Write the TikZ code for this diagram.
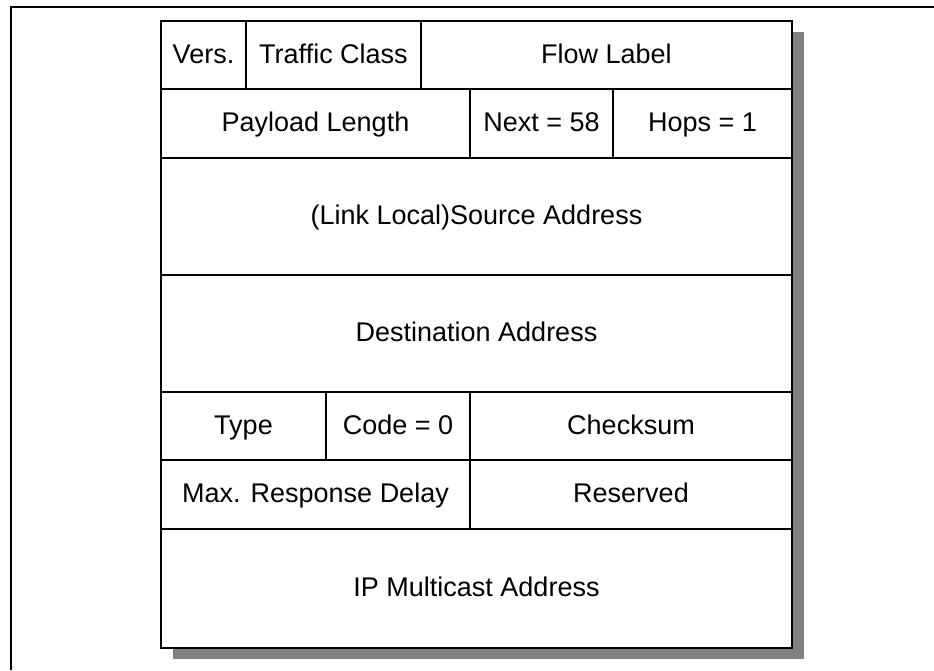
\documentclass[tikz,border=0pt]{standalone}
\usepackage{fontspec}
\setmainfont{Liberation Sans}
\begin{document}
\begin{tikzpicture}[x=1pt,y=-1pt,
  cell/.style={draw=black, line width=2pt, fill=white, inner sep=0pt, outer sep=0pt,
    text height=16pt, text depth=0pt, font=\fontsize{27}{32}\selectfont},
  frameline/.style={draw=black, line width=2pt},
  shadowbox/.style={fill=black!50, draw=none},
  tableborder/.style={draw=black, line width=2.6pt}]
\useasboundingbox (0,0) rectangle (934,670);
% open page frame
\coordinate (ftr) at (934,7);
\coordinate (ftl) at (11,7);
\coordinate (fbl) at (11,670);
\draw[frameline] (ftr) -- (ftl) -- (fbl);
% shadow
\coordinate (sa) at (173,32);
\coordinate (sb) at (804,659);
\fill[shadowbox] (sa) rectangle (sb);
% row 1
\node[cell, minimum width=85pt, minimum height=68pt] (vers) at (203.5,55) {Vers.};
\node[cell, minimum width=175pt, minimum height=68pt] (tc) at (333.5,55) {Traffic Class};
\node[cell, minimum width=371pt, minimum height=68pt] (fl) at (606.5,55) {Flow Label};
% row 2
\node[cell, minimum width=309pt, minimum height=69pt] (pl) at (315.5,123.5) {Payload Length};
\node[cell, minimum width=143pt, minimum height=69pt] (nx) at (541.5,123.5) {Next = 58};
\node[cell, minimum width=179pt, minimum height=69pt] (hp) at (702.5,123.5) {Hops = 1};
% row 3, 4
\node[cell, minimum width=631pt, minimum height=117pt] (src) at (476.5,216.5) {(Link Local)Source Address};
\node[cell, minimum width=631pt, minimum height=117pt] (dst) at (476.5,333.5) {Destination Address};
% row 5
\node[cell, minimum width=165pt, minimum height=68pt] (type) at (243.5,426) {Type};
\node[cell, minimum width=144pt, minimum height=68pt] (code) at (398,426) {Code = 0};
\node[cell, minimum width=322pt, minimum height=68pt] (chk) at (631,426) {Checksum};
% row 6
\node[cell, minimum width=309pt, minimum height=69pt] (mrd) at (315.5,494.5) {Max. Response Delay};
\node[cell, minimum width=322pt, minimum height=69pt] (res) at (631,494.5) {Reserved};
% row 7
\node[cell, minimum width=631pt, minimum height=119pt] (ipm) at (476.5,588.5) {IP Multicast Address};
% outer border of the table
\draw[tableborder] (vers.north west) rectangle (ipm.south east);
\end{tikzpicture}
\end{document}
